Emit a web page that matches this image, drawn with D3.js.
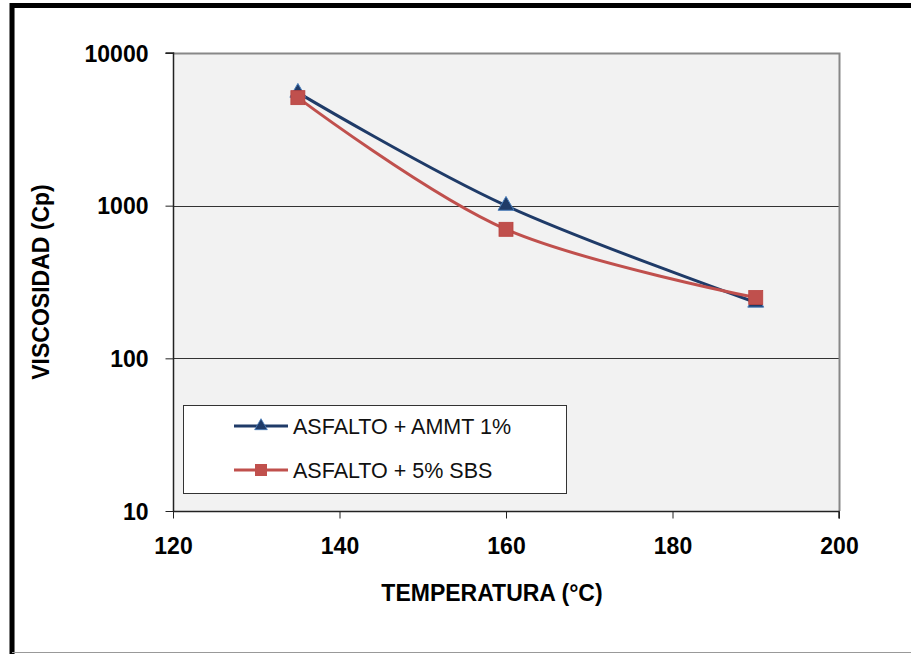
<!DOCTYPE html>
<html>
<head>
<meta charset="utf-8">
<script src="https://cdn.jsdelivr.net/npm/d3@7"></script>
<style>
  html, body { margin: 0; padding: 0; background: #fff; }
  svg { display: block; }
</style>
</head>
<body>
<svg id="chart" width="911" height="654"></svg>
<script>
// Temperature (°C) and viscosity (cP) for the two asphalt blends
const temperatures = [135, 160, 190];
const ammtValues = [5500, 1000, 232];
const sbsValues = [5100, 700, 250];
const seriesNames = ["ASFALTO + AMMT 1%", "ASFALTO + 5% SBS"];
const xTicks = [120, 140, 160, 180, 200];
const yTicks = [10, 100, 1000, 10000];

const FONT = "'Liberation Sans', Arial, sans-serif";
const svg = d3.select("#chart");
const W = 911, H = 654;
const plot = { left: 173, right: 839, top: 53, bottom: 511 };

// Outer frame
svg.append("rect").attr("x", 0).attr("y", 0).attr("width", W).attr("height", H).attr("fill", "#fff");
svg.append("line").attr("x1", 12).attr("x2", W).attr("y1", 5.5).attr("y2", 5.5)
  .attr("stroke", "#000").attr("stroke-width", 5);
svg.append("line").attr("x1", 12).attr("x2", 12).attr("y1", 3).attr("y2", H)
  .attr("stroke", "#000").attr("stroke-width", 5);
svg.append("line").attr("x1", 14.5).attr("x2", 14.5).attr("y1", 8).attr("y2", H)
  .attr("stroke", "#777").attr("stroke-width", 1);
svg.append("line").attr("x1", 12).attr("x2", W).attr("y1", 652.5).attr("y2", 652.5)
  .attr("stroke", "#999").attr("stroke-width", 1);

const x = d3.scaleLinear().domain([120, 200]).range([plot.left, plot.right]);
const y = d3.scaleLog().domain([10, 10000]).range([plot.bottom, plot.top]);

// Plot area
svg.append("rect")
  .attr("x", plot.left).attr("y", plot.top)
  .attr("width", plot.right - plot.left).attr("height", plot.bottom - plot.top)
  .attr("fill", "#f2f2f2");

// Horizontal gridlines
svg.append("g").selectAll("line")
  .data(yTicks.filter(v => v > 10 && v < 10000))
  .join("line")
  .attr("x1", plot.left).attr("x2", plot.right)
  .attr("y1", d => Math.round(y(d)) + 0.5).attr("y2", d => Math.round(y(d)) + 0.5)
  .attr("stroke", "#333").attr("stroke-width", 1);

// Plot border (top / right)
svg.append("path")
  .attr("d", `M${plot.left},${plot.top + 0.5}H${plot.right + 0.5}V${plot.bottom}`)
  .attr("fill", "none").attr("stroke", "#888").attr("stroke-width", 2);

// Axes
const yAxis = d3.axisLeft(y).tickValues(yTicks).tickFormat(d3.format("d")).tickSize(8).tickPadding(17);
const xAxis = d3.axisBottom(x).tickValues(xTicks).tickFormat(d3.format("d")).tickSize(7).tickPadding(19);

const gy = svg.append("g").attr("transform", `translate(${plot.left + 0.5},0)`).call(yAxis);
const gx = svg.append("g").attr("transform", `translate(0,${plot.bottom + 0.5})`).call(xAxis);
[gx, gy].forEach(g => {
  g.select(".domain").attr("stroke", "#222").attr("stroke-width", 1.5);
  g.selectAll(".tick line").attr("stroke", "#222");
  g.selectAll(".tick text")
    .attr("fill", "#000")
    .style("font-family", FONT)
    .style("font-size", "23px")
    .style("font-weight", "bold");
});
gy.selectAll(".tick text").attr("dy", "0.36em");
gy.select(".domain").attr("d", `M-8,${plot.top}H0V${plot.bottom}`);
gx.select(".domain").attr("d", `M${plot.left},0H${plot.right}V7`);

// Axis titles
svg.append("text")
  .attr("x", 492).attr("y", 601)
  .attr("text-anchor", "middle")
  .style("font-family", FONT)
  .style("font-size", "23px").style("font-weight", "bold")
  .text("TEMPERATURA (°C)");
svg.append("text")
  .attr("transform", "translate(49,282) rotate(-90)")
  .attr("text-anchor", "middle")
  .style("font-family", FONT)
  .style("font-size", "23px").style("font-weight", "bold")
  .text("VISCOSIDAD (Cp)");

// Series
const series = [
  { name: seriesNames[0], values: ammtValues, color: "#1f3b68", marker: "triangle" },
  { name: seriesNames[1], values: sbsValues, color: "#c0504d", marker: "square" }
];

const line = d3.line()
  .x(d => x(d[0])).y(d => y(d[1]))
  .curve(d3.curveCardinal.tension(0));

function drawMarker(g, type, color, cx, cy) {
  if (type === "triangle") {
    g.append("path")
      .attr("d", d3.symbol(d3.symbolTriangle, 110)())
      .attr("transform", `translate(${cx},${cy})`)
      .attr("fill", color).attr("stroke", "#4a7ebb").attr("stroke-width", 1);
  } else {
    g.append("rect")
      .attr("x", cx - 7).attr("y", cy - 7).attr("width", 14).attr("height", 14)
      .attr("fill", color).attr("stroke", "#b8413e").attr("stroke-width", 0.8);
  }
}

series.forEach(s => {
  const pts = temperatures.map((t, i) => [t, s.values[i]]);
  svg.append("path")
    .datum(pts)
    .attr("d", line)
    .attr("fill", "none").attr("stroke", s.color).attr("stroke-width", 3)
    .attr("stroke-linejoin", "round");
  const g = svg.append("g");
  pts.forEach(p => drawMarker(g, s.marker, s.color, x(p[0]), y(p[1])));
});

// Legend
const legend = svg.append("g");
legend.append("rect")
  .attr("x", 183.5).attr("y", 405.5).attr("width", 383).attr("height", 88)
  .attr("fill", "#fff").attr("stroke", "#333").attr("stroke-width", 1);
series.forEach((s, i) => {
  const ly = 426 + i * 44;
  legend.append("line")
    .attr("x1", 234).attr("x2", 288).attr("y1", ly).attr("y2", ly)
    .attr("stroke", s.color).attr("stroke-width", 3);
  if (s.marker === "triangle") {
    legend.append("path")
      .attr("d", d3.symbol(d3.symbolTriangle, 70)())
      .attr("transform", `translate(261,${ly})`)
      .attr("fill", s.color).attr("stroke", "#4a7ebb").attr("stroke-width", 0.8);
  } else {
    legend.append("rect")
      .attr("x", 255).attr("y", ly - 6).attr("width", 12).attr("height", 12)
      .attr("fill", s.color);
  }
  legend.append("text")
    .attr("x", 293).attr("y", ly + 7.5)
    .style("font-family", FONT)
    .style("font-size", "21.5px")
    .attr("fill", "#111")
    .text(s.name);
});
</script>
</body>
</html>
